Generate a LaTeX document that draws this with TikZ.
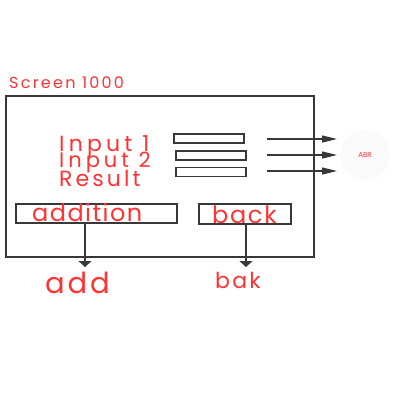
\documentclass[tikz,border=0pt]{standalone}
\usepackage{fontspec}
\setmainfont{Poppins}
\usetikzlibrary{arrows.meta}
\definecolor{txtred}{HTML}{FF3333}
\definecolor{linegray}{HTML}{383838}
\tikzset{
  lbl/.style={text=txtred, inner sep=0pt, anchor=base west},
  framebox/.style={draw=linegray, line width=2pt, inner sep=0pt},
  fieldbox/.style={draw=linegray, line width=1.5pt, inner sep=0pt},
  hconn/.style={draw=linegray, line width=1.2pt, -{Triangle[length=15pt,width=7pt]}},
  vconn/.style={draw=linegray, line width=1.5pt, -{Triangle[length=6pt,width=13pt]}},
}
\begin{document}
\begin{tikzpicture}[x=1pt,y=-1pt]
\useasboundingbox (0,0) rectangle (400,400);
\node[framebox, minimum width=308pt, minimum height=161pt] (frame) at (160,176.5) {};
\node[lbl, font=\fontsize{16}{16}\selectfont\addfontfeature{LetterSpace=14}] (title) at (9,88) {Screen 1000};
\node[lbl, font=\fontsize{22}{22}\selectfont\addfontfeature{LetterSpace=19}] (in1) at (59,151) {Input 1};
\node[lbl, font=\fontsize{21}{21}\selectfont\addfontfeature{LetterSpace=19}] (in2) at (59,167.5) {Input 2};
\node[lbl, font=\fontsize{22}{22}\selectfont\addfontfeature{LetterSpace=14}] (res) at (59,186) {Result};
\node[fieldbox, minimum width=70pt, minimum height=9pt] (f1) at (209,138.5) {};
\node[fieldbox, minimum width=70pt, minimum height=9pt] (f2) at (211,155.5) {};
\node[fieldbox, minimum width=70pt, minimum height=9pt] (f3) at (211,172) {};
\coordinate (s1) at (267,139);
\coordinate (s2) at (267,155);
\coordinate (s3) at (267,171);
\node[circle, fill=black!2, minimum size=50pt, inner sep=0pt] (abr) at (365,155) {};
\node[text=txtred, font=\fontsize{7}{7}\selectfont, inner sep=0pt] (abrt) at (abr) {ABR};
\coordinate (e1) at (337,139);
\coordinate (e2) at (337,155);
\coordinate (e3) at (337,171);
\draw[hconn] (s1) -- (e1);
\draw[hconn] (s2) -- (e2);
\draw[hconn] (s3) -- (e3);
\node[fieldbox, minimum width=161pt, minimum height=19pt] (addb) at (96.5,213.5) {};
\node[fieldbox, minimum width=92pt, minimum height=20pt] (backb) at (245,214) {};
\node[lbl, font=\fontsize{24}{24}\selectfont\addfontfeature{LetterSpace=6}] (addt) at (32,221) {addition};
\node[lbl, font=\fontsize{24}{24}\selectfont\addfontfeature{LetterSpace=7}] (backt) at (212,223) {back};
\node[lbl, font=\fontsize{29}{29}\selectfont\addfontfeature{LetterSpace=10}] (add) at (45,293) {add};
\node[lbl, font=\fontsize{22}{22}\selectfont\addfontfeature{LetterSpace=10}] (bak) at (215,288) {bak};
\coordinate (a1) at (85,267);
\coordinate (a2) at (246,267);
\draw[vconn] (addb.south -| a1) -- (a1);
\draw[vconn] (backb.south -| a2) -- (a2);
\end{tikzpicture}
\end{document}
